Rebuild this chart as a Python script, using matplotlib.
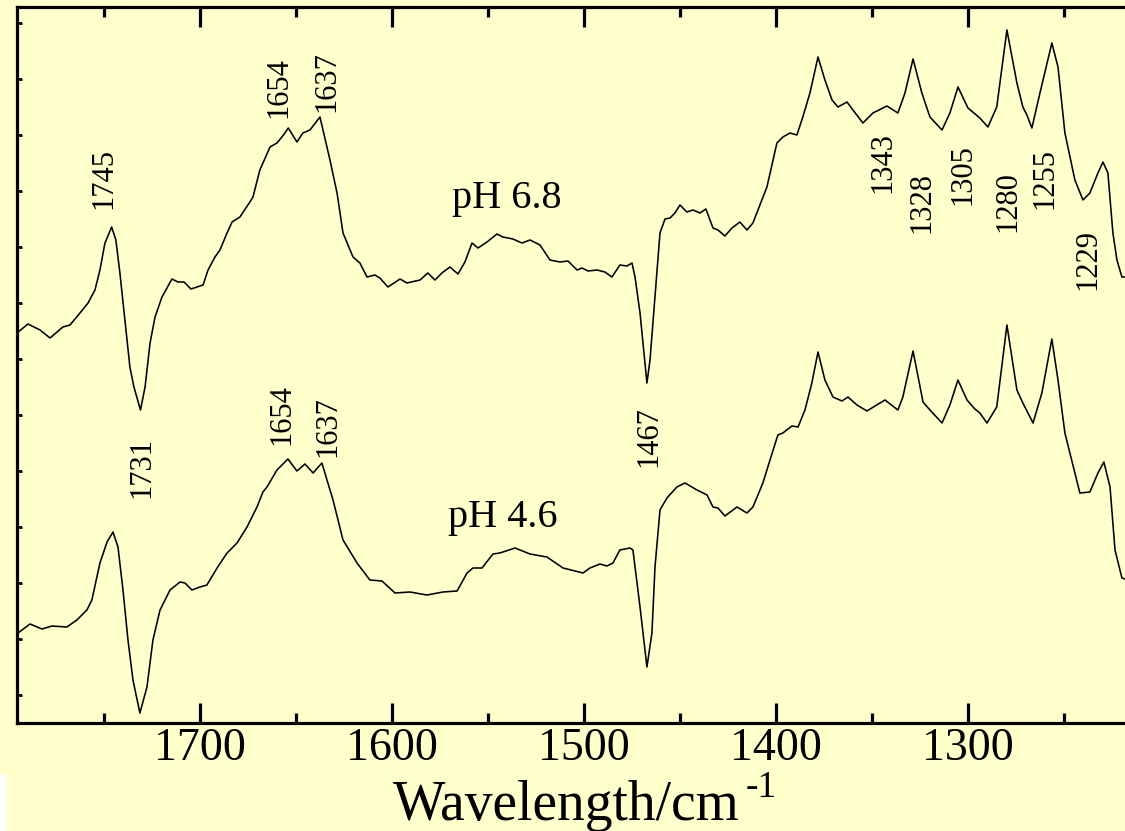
import matplotlib
matplotlib.use("Agg")
import matplotlib.pyplot as plt
from matplotlib.ticker import MultipleLocator
from matplotlib.patches import Rectangle

plt.rcParams['font.family'] = ['Liberation Serif', 'DejaVu Serif']

# FTIR difference spectrum at pH 6.8 (wavenumber / cm-1, absorbance a.u.)
wn_ph68 = [1795.3, 1789.6, 1783.3, 1778.1, 1771.4, 1767.7, 1762.5, 1758.3, 1754.7, 1752.1,
           1749.5, 1746.0, 1743.8, 1741.7, 1739.1, 1736.5, 1734.4, 1731.0, 1728.6, 1726.0,
           1723.4, 1719.8, 1714.6, 1711.5, 1708.3, 1704.7, 1700.0, 1698.4, 1695.8, 1692.2,
           1689.6, 1685.9, 1683.3, 1679.2, 1674.0, 1672.4, 1668.8, 1663.5, 1659.9, 1656.5,
           1654.0, 1649.5, 1646.4, 1642.7, 1637.5, 1632.3, 1628.6, 1625.5, 1620.3, 1616.7,
           1613.0, 1608.9, 1606.3, 1602.1, 1595.8, 1592.2, 1585.4, 1581.3, 1577.6, 1574.0,
           1569.8, 1565.6, 1562.0, 1558.3, 1555.2, 1550.5, 1545.3, 1542.2, 1537.0, 1532.3,
           1528.1, 1522.9, 1517.7, 1512.5, 1508.3, 1503.6, 1501.0, 1497.9, 1493.2, 1489.1,
           1485.4, 1481.3, 1477.6, 1475.0, 1473.4, 1470.8, 1468.2, 1467.2, 1465.6, 1463.0,
           1460.4, 1457.8, 1455.2, 1452.6, 1450.0, 1446.4, 1443.2, 1439.6, 1436.5, 1432.8,
           1430.2, 1426.6, 1422.9, 1418.8, 1415.1, 1412.0, 1407.3, 1404.7, 1399.5, 1396.4,
           1392.7, 1389.1, 1386.0, 1382.3, 1378.1, 1374.5, 1370.8, 1367.7, 1363.0, 1359.9,
           1354.7, 1349.5, 1342.2, 1336.5, 1332.8, 1328.6, 1324.0, 1319.8, 1313.5, 1309.4,
           1305.2, 1300.0, 1293.8, 1289.6, 1285.0, 1279.7, 1274.5, 1271.4, 1269.3, 1266.7,
           1262.5, 1256.3, 1253.1, 1249.5, 1244.3, 1240.1, 1236.5, 1232.3, 1229.7, 1227.1,
           1224.5, 1222.4, 1219.8, 1218.2]
abs_ph68 = [362, 371, 365, 357, 368, 370, 382, 392, 405, 425,
            452, 468, 455, 422, 375, 328, 308, 285, 308, 352,
            378, 398, 416, 413, 413, 406, 409, 410, 425, 438,
            445, 462, 473, 478, 493, 498, 525, 548, 552, 560,
            567, 553, 562, 565, 578, 535, 502, 462, 438, 432,
            418, 420, 417, 408, 416, 412, 415, 422, 415, 422,
            428, 421, 433, 452, 447, 453, 461, 458, 456, 452,
            455, 450, 435, 433, 434, 425, 427, 424, 425, 423,
            418, 430, 429, 432, 418, 382, 332, 312, 335, 398,
            462, 476, 477, 482, 490, 483, 485, 482, 486, 467,
            465, 459, 467, 473, 465, 472, 495, 508, 552, 558,
            562, 560, 578, 602, 638, 615, 595, 588, 593, 585,
            572, 582, 589, 582, 602, 636, 602, 578, 565, 582,
            608, 587, 577, 568, 588, 665, 612, 588, 580, 567,
            602, 652, 628, 562, 515, 495, 502, 522, 533, 522,
            462, 435, 418, 418]

# FTIR difference spectrum at pH 4.6
wn_ph46 = [1794.8, 1788.5, 1782.3, 1777.1, 1769.3, 1764.1, 1758.9, 1756.3, 1752.1, 1748.4,
           1745.3, 1742.7, 1740.1, 1737.5, 1734.9, 1731.3, 1727.6, 1724.5, 1720.8, 1715.6,
           1710.4, 1707.8, 1704.2, 1700.0, 1696.4, 1691.1, 1685.9, 1680.7, 1675.5, 1670.3,
           1667.2, 1665.1, 1659.9, 1654.2, 1649.5, 1645.3, 1641.1, 1636.5, 1630.7, 1625.5,
           1618.2, 1611.5, 1605.2, 1598.4, 1590.6, 1581.8, 1573.4, 1566.1, 1560.9, 1557.8,
           1553.1, 1547.4, 1543.8, 1535.9, 1528.1, 1519.3, 1510.9, 1500.5, 1496.9, 1491.7,
           1488.0, 1484.9, 1481.3, 1476.0, 1474.5, 1470.8, 1468.2, 1467.2, 1464.6, 1463.0,
           1460.4, 1456.8, 1451.6, 1447.4, 1441.1, 1435.9, 1432.8, 1430.2, 1426.6, 1420.3,
           1415.1, 1412.0, 1406.8, 1403.1, 1399.0, 1396.4, 1391.7, 1388.5, 1384.9, 1381.3,
           1378.1, 1374.5, 1370.3, 1365.6, 1362.5, 1357.8, 1352.6, 1348.4, 1343.2, 1336.5,
           1333.9, 1328.6, 1323.4, 1319.8, 1313.5, 1309.4, 1305.2, 1300.5, 1296.4, 1293.8,
           1290.1, 1285.0, 1279.7, 1274.5, 1271.4, 1266.1, 1261.5, 1256.3, 1253.1, 1249.5,
           1241.7, 1236.5, 1232.3, 1229.2, 1226.0, 1223.4, 1219.8, 1218.2]
abs_ph46 = [62, 71, 66, 69, 68, 75, 85, 95, 132, 153,
            163, 148, 105, 55, 15, -18, 8, 55, 85, 105,
            113, 112, 105, 108, 110, 127, 142, 152, 168, 188,
            203, 208, 225, 236, 224, 231, 222, 232, 195, 155,
            132, 115, 114, 102, 103, 100, 103, 104, 122, 127,
            127, 141, 142, 147, 141, 138, 127, 122, 127, 131,
            129, 132, 145, 147, 145, 88, 45, 28, 62, 128,
            185, 197, 208, 212, 205, 200, 188, 187, 179, 188,
            182, 188, 212, 235, 260, 262, 269, 268, 285, 312,
            343, 315, 298, 294, 298, 290, 284, 289, 295, 285,
            298, 344, 293, 285, 272, 290, 315, 295, 286, 282,
            272, 288, 370, 305, 292, 272, 302, 356, 315, 262,
            202, 203, 222, 233, 208, 145, 117, 116]

band_labels = ["1745", "1654", "1637", "1731", "1654", "1637", "1467",
               "1343", "1328", "1305", "1280", "1255", "1229"]
band_label_x = [1750.0, 1658.9, 1633.9, 1730.2, 1657.3, 1633.3, 1466.1,
                1344.3, 1324.0, 1302.6, 1279.2, 1259.9, 1237.5]
band_label_y = [517, 607, 613, 228, 280, 268, 258,
                533, 493, 520, 493, 517, 436]

spectrum_names = ["pH 6.8", "pH 4.6"]
spectrum_name_x = [1568.8, 1570.8]
spectrum_name_y = [487, 168]

BG = "#FFFFCC"
W, H = 1125, 831
fig = plt.figure(figsize=(W / 100, H / 100), dpi=100, facecolor=BG)
ax = fig.add_axes([17 / W, (H - 723) / H, (W - 17) / W, (723 - 7) / H], facecolor=BG)

ax.plot(wn_ph68, abs_ph68, color="black", lw=1.15, solid_joinstyle="round")
ax.plot(wn_ph46, abs_ph46, color="black", lw=1.15, solid_joinstyle="round")

ax.set_xlim(1795.3, 1218.2)
ax.set_ylim(-28, 688)

ax.xaxis.set_major_locator(MultipleLocator(100))
ax.xaxis.set_minor_locator(MultipleLocator(50))
ax.yaxis.set_major_locator(MultipleLocator(56))
ax.tick_params(axis="x", which="major", direction="in", length=14.5, width=2.3,
               top=True, bottom=True, labelsize=33, pad=3)
ax.tick_params(axis="x", which="minor", direction="in", length=7.5, width=2.3,
               top=True, bottom=True)
ax.tick_params(axis="y", which="major", direction="in", length=3.5, width=2.0,
               left=True, right=False, labelleft=False)

for side in ("left", "bottom", "top"):
    ax.spines[side].set_linewidth(2.3)
ax.spines["right"].set_visible(False)

for txt, x, y in zip(band_labels, band_label_x, band_label_y):
    ax.text(x, y, txt, rotation=90, ha="center", va="center", fontsize=22)

for txt, x, y in zip(spectrum_names, spectrum_name_x, spectrum_name_y):
    ax.text(x, y, txt, ha="left", va="baseline", fontsize=29)

# axis title with a raised -1 exponent
lab = fig.text(393 / W, 1 - 820 / H, "Wavelength/cm", ha="left", va="baseline", fontsize=40)
fig.canvas.draw()
bb = lab.get_window_extent()
fig.text((bb.x1 + 6) / W, 1 - 797 / H, "-1", ha="left", va="baseline", fontsize=27)

fig.patches.append(Rectangle((0, 0), 7 / W, (H - 775) / H, transform=fig.transFigure,
                             facecolor="white", edgecolor="none", zorder=-1))

fig.savefig("out.png", dpi=100, facecolor=BG)
